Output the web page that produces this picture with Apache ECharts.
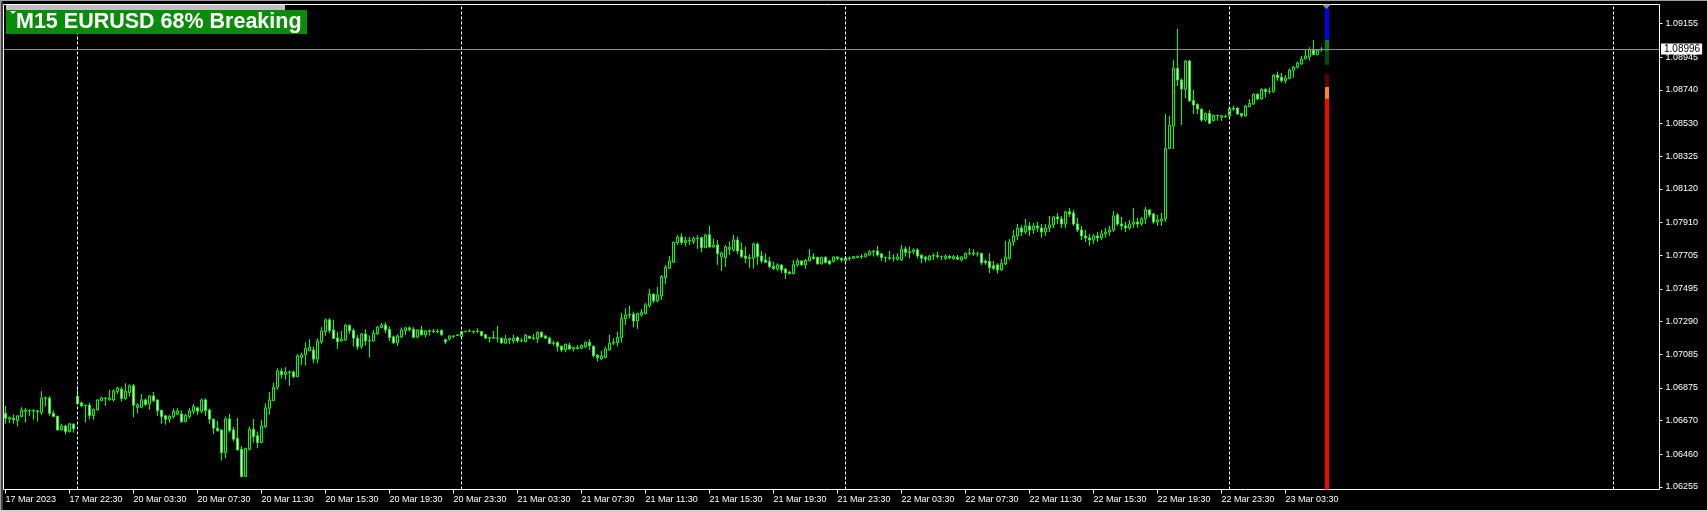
<!DOCTYPE html>
<html>
<head>
<meta charset="utf-8">
<script src="https://cdn.jsdelivr.net/npm/echarts@6/dist/echarts.min.js"></script>
<style>
html,body{margin:0;padding:0;background:#000;overflow:hidden;}
#chart{width:1707px;height:512px;}
</style>
</head>
<body>
<div id="chart"></div>
<script>
// ---------- text ----------
const chartTitle = 'M15 EURUSD 68% Breaking';
const xTickLabels = ['17 Mar 2023','17 Mar 22:30','20 Mar 03:30','20 Mar 07:30','20 Mar 11:30','20 Mar 15:30',
  '20 Mar 19:30','20 Mar 23:30','21 Mar 03:30','21 Mar 07:30','21 Mar 11:30','21 Mar 15:30','21 Mar 19:30',
  '21 Mar 23:30','22 Mar 03:30','22 Mar 07:30','22 Mar 11:30','22 Mar 15:30','22 Mar 19:30','22 Mar 23:30','23 Mar 03:30'];
const barsPerXLabel = 16;
const totalSlots = 414;            // bars + chart shift space
const yTickLabels = ['1.06255','1.06460','1.06670','1.06875','1.07085','1.07290','1.07495','1.07705',
  '1.07910','1.08120','1.08325','1.08530','1.08740','1.08945','1.09155'];
const yMin = 1.06239, yMax = 1.09275;
const bidPrice = 1.08996;
const daySeparatorBars = [18, 114, 210, 306, 402];

// ---------- M15 OHLC ----------
const openPrices = [
1.06716,1.06679,1.06685,1.06671,1.06696,1.06729,1.06731,1.06733,1.06731,1.06721,
1.06810,1.06810,1.06716,1.06698,1.06612,1.06637,1.06602,1.06648,1.06823,1.06781,
1.06767,1.06767,1.06702,1.06737,1.06796,1.06812,1.06800,1.06800,1.06852,1.06867,
1.06808,1.06846,1.06888,1.06752,1.06754,1.06800,1.06773,1.06825,1.06800,1.06735,
1.06700,1.06679,1.06696,1.06710,1.06712,1.06664,1.06696,1.06727,1.06750,1.06729,
1.06800,1.06737,1.06679,1.06623,1.06612,1.06470,1.06681,1.06612,1.06560,1.06491,
1.06320,1.06491,1.06616,1.06575,1.06533,1.06633,1.06748,1.06796,1.06879,1.06979,
1.06959,1.06975,1.06975,1.06946,1.07065,1.07082,1.07109,1.07113,1.07055,1.07165,
1.07228,1.07301,1.07238,1.07188,1.07169,1.07175,1.07265,1.07234,1.07186,1.07134,
1.07213,1.07169,1.07169,1.07213,1.07253,1.07269,1.07240,1.07194,1.07157,1.07196,
1.07234,1.07251,1.07242,1.07192,1.07238,1.07207,1.07232,1.07230,1.07228,1.07234,
1.07177,1.07180,1.07200,1.07203,1.07196,1.07228,1.07230,1.07230,1.07228,1.07228,
1.07207,1.07186,1.07190,1.07186,1.07186,1.07155,1.07182,1.07169,1.07190,1.07169,
1.07165,1.07198,1.07186,1.07182,1.07223,1.07200,1.07186,1.07153,1.07161,1.07136,
1.07113,1.07142,1.07119,1.07121,1.07123,1.07132,1.07161,1.07136,1.07079,1.07056,
1.07065,1.07113,1.07155,1.07159,1.07190,1.07307,1.07332,1.07336,1.07294,1.07332,
1.07340,1.07390,1.07461,1.07420,1.07451,1.07566,1.07624,1.07662,1.07785,1.07818,
1.07785,1.07799,1.07791,1.07810,1.07816,1.07753,1.07833,1.07757,1.07770,1.07695,
1.07691,1.07743,1.07739,1.07801,1.07739,1.07701,1.07686,1.07686,1.07776,1.07701,
1.07676,1.07666,1.07636,1.07620,1.07645,1.07620,1.07599,1.07590,1.07645,1.07670,
1.07645,1.07670,1.07695,1.07691,1.07651,1.07691,1.07670,1.07666,1.07695,1.07686,
1.07670,1.07689,1.07686,1.07691,1.07699,1.07697,1.07707,1.07728,1.07732,1.07714,
1.07691,1.07689,1.07686,1.07680,1.07676,1.07745,1.07722,1.07728,1.07739,1.07705,
1.07693,1.07676,1.07701,1.07703,1.07697,1.07686,1.07699,1.07682,1.07693,1.07676,
1.07686,1.07718,1.07720,1.07714,1.07716,1.07668,1.07666,1.07640,1.07645,1.07613,
1.07651,1.07686,1.07789,1.07826,1.07876,1.07851,1.07889,1.07864,1.07889,1.07876,
1.07851,1.07876,1.07895,1.07945,1.07933,1.07901,1.07977,1.07970,1.07901,1.07864,
1.07826,1.07814,1.07801,1.07826,1.07814,1.07839,1.07851,1.07864,1.07958,1.07901,
1.07889,1.07876,1.07901,1.07914,1.07901,1.07933,1.07989,1.07964,1.07914,1.07920,
1.07933,1.08374,1.08514,1.08875,1.08802,1.08744,1.08921,1.08675,1.08650,1.08619,
1.08552,1.08594,1.08548,1.08581,1.08569,1.08573,1.08577,1.08625,1.08627,1.08592,
1.08577,1.08635,1.08652,1.08713,1.08683,1.08744,1.08731,1.08729,1.08834,1.08819,
1.08798,1.08811,1.08863,1.08882,1.08903,1.08934,1.08948,1.08990,1.08961,1.08990
];
const highPrices = [
1.06762,1.06696,1.06710,1.06706,1.06754,1.06750,1.06741,1.06741,1.06737,1.06856,
1.06821,1.06825,1.06733,1.06700,1.06650,1.06643,1.06654,1.06654,1.06888,1.06789,
1.06768,1.06783,1.06746,1.06806,1.06821,1.06815,1.06863,1.06867,1.06883,1.06883,
1.06904,1.06898,1.06900,1.06779,1.06837,1.06810,1.06831,1.06850,1.06802,1.06737,
1.06706,1.06706,1.06746,1.06748,1.06733,1.06712,1.06748,1.06775,1.06758,1.06808,
1.06810,1.06746,1.06683,1.06668,1.06616,1.06696,1.06712,1.06629,1.06687,1.06512,
1.06499,1.06633,1.06681,1.06602,1.06675,1.06779,1.06850,1.06908,1.06998,1.06998,
1.07004,1.06984,1.06984,1.07088,1.07096,1.07159,1.07180,1.07134,1.07186,1.07255,
1.07309,1.07311,1.07301,1.07224,1.07232,1.07276,1.07273,1.07248,1.07207,1.07217,
1.07242,1.07203,1.07238,1.07263,1.07280,1.07286,1.07259,1.07203,1.07211,1.07253,
1.07257,1.07259,1.07255,1.07242,1.07263,1.07238,1.07242,1.07244,1.07244,1.07242,
1.07182,1.07207,1.07203,1.07211,1.07232,1.07232,1.07244,1.07232,1.07248,1.07232,
1.07213,1.07194,1.07232,1.07263,1.07190,1.07207,1.07190,1.07207,1.07198,1.07186,
1.07213,1.07203,1.07213,1.07228,1.07228,1.07207,1.07196,1.07171,1.07165,1.07140,
1.07153,1.07157,1.07132,1.07144,1.07148,1.07165,1.07180,1.07140,1.07086,1.07107,
1.07134,1.07207,1.07186,1.07228,1.07344,1.07374,1.07390,1.07353,1.07347,1.07369,
1.07405,1.07495,1.07468,1.07507,1.07582,1.07645,1.07701,1.07791,1.07833,1.07843,
1.07822,1.07820,1.07822,1.07831,1.07822,1.07837,1.07889,1.07808,1.07801,1.07728,
1.07770,1.07791,1.07833,1.07822,1.07785,1.07760,1.07712,1.07785,1.07785,1.07732,
1.07718,1.07695,1.07666,1.07655,1.07649,1.07624,1.07607,1.07676,1.07686,1.07676,
1.07682,1.07745,1.07718,1.07697,1.07697,1.07701,1.07676,1.07697,1.07695,1.07691,
1.07701,1.07697,1.07701,1.07703,1.07712,1.07722,1.07739,1.07739,1.07764,1.07718,
1.07697,1.07732,1.07712,1.07718,1.07770,1.07760,1.07760,1.07749,1.07749,1.07712,
1.07701,1.07707,1.07718,1.07728,1.07703,1.07712,1.07707,1.07707,1.07707,1.07701,
1.07722,1.07749,1.07743,1.07728,1.07722,1.07680,1.07718,1.07670,1.07655,1.07682,
1.07795,1.07808,1.07864,1.07901,1.07895,1.07933,1.07914,1.07908,1.07914,1.07901,
1.07901,1.07951,1.07951,1.07970,1.07951,1.07983,1.08002,1.07989,1.07939,1.07889,
1.07864,1.07839,1.07839,1.07851,1.07864,1.07876,1.07889,1.07983,1.07970,1.07945,
1.07914,1.07926,1.08002,1.07939,1.07945,1.08008,1.07995,1.07970,1.07958,1.07970,
1.08589,1.08577,1.08928,1.09122,1.08813,1.08928,1.08928,1.08740,1.08656,1.08625,
1.08598,1.08615,1.08585,1.08583,1.08583,1.08587,1.08631,1.08642,1.08631,1.08596,
1.08646,1.08683,1.08719,1.08719,1.08750,1.08750,1.08756,1.08838,1.08855,1.08848,
1.08834,1.08875,1.08890,1.08919,1.08953,1.08990,1.09007,1.09053,1.08994,1.09009
];
const lowPrices = [
1.06650,1.06654,1.06650,1.06633,1.06691,1.06658,1.06700,1.06675,1.06664,1.06706,
1.06758,1.06700,1.06691,1.06608,1.06608,1.06583,1.06595,1.06595,1.06777,1.06754,
1.06658,1.06679,1.06675,1.06733,1.06792,1.06762,1.06796,1.06789,1.06837,1.06789,
1.06800,1.06821,1.06691,1.06716,1.06748,1.06762,1.06737,1.06787,1.06700,1.06650,
1.06645,1.06658,1.06683,1.06704,1.06656,1.06660,1.06683,1.06712,1.06706,1.06716,
1.06700,1.06650,1.06587,1.06602,1.06420,1.06433,1.06595,1.06539,1.06483,1.06314,
1.06318,1.06483,1.06533,1.06497,1.06529,1.06623,1.06708,1.06792,1.06863,1.06933,
1.06925,1.06888,1.06936,1.06940,1.07019,1.07015,1.07103,1.07029,1.07029,1.07151,
1.07201,1.07217,1.07182,1.07119,1.07165,1.07169,1.07211,1.07134,1.07113,1.07119,
1.07140,1.07065,1.07165,1.07207,1.07248,1.07217,1.07169,1.07150,1.07138,1.07186,
1.07207,1.07228,1.07186,1.07186,1.07203,1.07190,1.07203,1.07217,1.07217,1.07203,
1.07148,1.07173,1.07186,1.07203,1.07192,1.07222,1.07224,1.07213,1.07217,1.07196,
1.07182,1.07159,1.07182,1.07161,1.07150,1.07150,1.07150,1.07153,1.07157,1.07161,
1.07159,1.07182,1.07175,1.07157,1.07190,1.07182,1.07148,1.07140,1.07102,1.07098,
1.07098,1.07113,1.07102,1.07115,1.07117,1.07123,1.07113,1.07065,1.07040,1.07048,
1.07061,1.07107,1.07144,1.07134,1.07159,1.07269,1.07311,1.07253,1.07244,1.07321,
1.07336,1.07378,1.07405,1.07411,1.07426,1.07526,1.07620,1.07657,1.07770,1.07770,
1.07760,1.07770,1.07776,1.07745,1.07724,1.07749,1.07753,1.07753,1.07645,1.07607,
1.07632,1.07707,1.07728,1.07712,1.07686,1.07655,1.07626,1.07622,1.07645,1.07655,
1.07655,1.07622,1.07613,1.07607,1.07593,1.07557,1.07586,1.07586,1.07634,1.07640,
1.07620,1.07666,1.07676,1.07649,1.07649,1.07655,1.07645,1.07661,1.07674,1.07661,
1.07666,1.07670,1.07682,1.07686,1.07682,1.07691,1.07703,1.07697,1.07697,1.07670,
1.07661,1.07676,1.07666,1.07672,1.07670,1.07697,1.07686,1.07712,1.07686,1.07655,
1.07661,1.07670,1.07676,1.07686,1.07674,1.07676,1.07680,1.07676,1.07676,1.07666,
1.07680,1.07707,1.07701,1.07697,1.07645,1.07645,1.07593,1.07611,1.07590,1.07607,
1.07645,1.07676,1.07764,1.07801,1.07826,1.07839,1.07826,1.07839,1.07851,1.07814,
1.07826,1.07851,1.07876,1.07901,1.07876,1.07876,1.07945,1.07889,1.07851,1.07801,
1.07789,1.07764,1.07776,1.07789,1.07801,1.07814,1.07826,1.07851,1.07889,1.07864,
1.07851,1.07864,1.07876,1.07876,1.07889,1.07901,1.07945,1.07901,1.07889,1.07889,
1.07914,1.08370,1.08370,1.08765,1.08521,1.08688,1.08667,1.08589,1.08589,1.08541,
1.08541,1.08527,1.08544,1.08548,1.08546,1.08567,1.08573,1.08608,1.08585,1.08567,
1.08573,1.08633,1.08646,1.08677,1.08677,1.08694,1.08715,1.08723,1.08796,1.08786,
1.08781,1.08807,1.08817,1.08875,1.08898,1.08932,1.08923,1.08957,1.08957,1.08980
];
const closePrices = [
1.06685,1.06689,1.06675,1.06700,1.06737,1.06737,1.06733,1.06731,1.06727,1.06810,
1.06812,1.06716,1.06696,1.06612,1.06637,1.06602,1.06650,1.06620,1.06777,1.06762,
1.06765,1.06702,1.06741,1.06800,1.06812,1.06810,1.06812,1.06856,1.06875,1.06808,
1.06852,1.06888,1.06767,1.06769,1.06800,1.06771,1.06825,1.06796,1.06733,1.06696,
1.06679,1.06696,1.06729,1.06731,1.06664,1.06702,1.06731,1.06758,1.06729,1.06800,
1.06733,1.06679,1.06623,1.06606,1.06470,1.06681,1.06608,1.06554,1.06487,1.06320,
1.06497,1.06616,1.06570,1.06533,1.06637,1.06750,1.06800,1.06879,1.06981,1.06959,
1.06975,1.06973,1.06946,1.07075,1.07082,1.07123,1.07130,1.07055,1.07167,1.07232,
1.07301,1.07234,1.07184,1.07165,1.07180,1.07269,1.07234,1.07186,1.07134,1.07213,
1.07169,1.07173,1.07217,1.07255,1.07269,1.07238,1.07190,1.07157,1.07200,1.07238,
1.07251,1.07240,1.07192,1.07238,1.07207,1.07232,1.07230,1.07228,1.07226,1.07207,
1.07163,1.07200,1.07198,1.07207,1.07228,1.07230,1.07230,1.07228,1.07230,1.07203,
1.07186,1.07190,1.07186,1.07186,1.07157,1.07182,1.07177,1.07186,1.07169,1.07171,
1.07203,1.07186,1.07184,1.07223,1.07194,1.07186,1.07153,1.07155,1.07134,1.07113,
1.07148,1.07119,1.07127,1.07129,1.07140,1.07161,1.07140,1.07077,1.07065,1.07075,
1.07119,1.07155,1.07161,1.07192,1.07311,1.07332,1.07336,1.07294,1.07340,1.07349,
1.07395,1.07461,1.07420,1.07457,1.07572,1.07630,1.07670,1.07787,1.07818,1.07785,
1.07799,1.07795,1.07810,1.07812,1.07753,1.07833,1.07757,1.07770,1.07716,1.07720,
1.07757,1.07757,1.07801,1.07732,1.07697,1.07686,1.07691,1.07776,1.07697,1.07670,
1.07661,1.07634,1.07622,1.07645,1.07613,1.07595,1.07590,1.07649,1.07670,1.07645,
1.07674,1.07695,1.07686,1.07651,1.07691,1.07659,1.07651,1.07695,1.07686,1.07676,
1.07689,1.07686,1.07697,1.07699,1.07697,1.07714,1.07728,1.07732,1.07707,1.07691,
1.07689,1.07686,1.07688,1.07695,1.07743,1.07722,1.07728,1.07739,1.07701,1.07686,
1.07680,1.07701,1.07703,1.07697,1.07697,1.07699,1.07689,1.07697,1.07680,1.07695,
1.07718,1.07720,1.07714,1.07714,1.07659,1.07659,1.07628,1.07622,1.07613,1.07655,
1.07693,1.07787,1.07826,1.07876,1.07851,1.07889,1.07864,1.07889,1.07876,1.07851,
1.07876,1.07895,1.07945,1.07933,1.07901,1.07977,1.07964,1.07901,1.07864,1.07826,
1.07814,1.07801,1.07826,1.07814,1.07839,1.07851,1.07864,1.07951,1.07901,1.07889,
1.07876,1.07901,1.07914,1.07901,1.07933,1.07989,1.07958,1.07914,1.07926,1.07933,
1.08374,1.08519,1.08875,1.08802,1.08746,1.08921,1.08671,1.08646,1.08621,1.08552,
1.08594,1.08531,1.08581,1.08579,1.08579,1.08571,1.08625,1.08621,1.08589,1.08579,
1.08640,1.08656,1.08713,1.08683,1.08744,1.08729,1.08733,1.08832,1.08817,1.08798,
1.08815,1.08865,1.08884,1.08909,1.08934,1.08953,1.08992,1.08961,1.08990,1.08996
];

// ---------- indicator column (price bands) ----------
const indicatorBar = 330;
const indicatorLevels = [1.06239, 1.08684, 1.08759, 1.08840, 1.08897, 1.08980, 1.09053, 1.09253];
const indicatorColors = ['#ff0000', '#ff8c00', '#5c0000', '#000000', '#004f00', '#008a00', '#0000ff'];

// ---------- build ----------
const categories = Array.from({length: totalSlots}, (_, i) => String(i));
const candleData = openPrices.map((o, i) => [o, closePrices[i], lowPrices[i], highPrices[i]]);
const yTickValues = yTickLabels.map(Number);
const isXLabel = (idx) => idx % barsPerXLabel === 0 && idx / barsPerXLabel < xTickLabels.length;
const indicatorData = indicatorColors.map((c, k) => [indicatorBar, indicatorLevels[k], indicatorLevels[k + 1], k]);

const labelFont = 'Liberation Sans';
const chart = echarts.init(document.getElementById('chart'), null, {renderer: 'canvas'});
const baseGraphic = [
  {type: 'rect', z: 100, shape: {x: 0, y: 0, width: 1, height: 512}, style: {fill: '#a0a0a0'}},
  {type: 'rect', z: 100, shape: {x: 1, y: 0, width: 2, height: 510}, style: {fill: '#404040'}},
  {type: 'rect', z: 100, shape: {x: 0, y: 0, width: 1707, height: 1}, style: {fill: '#a0a0a0'}},
  {type: 'rect', z: 100, shape: {x: 0, y: 510, width: 1707, height: 2}, style: {fill: '#d4d0c8'}},
  {type: 'rect', z: 100, shape: {x: 6, y: 5, width: 279, height: 5}, style: {fill: '#c0c0c0'}},
  {type: 'rect', z: 100, shape: {x: 6, y: 10, width: 301, height: 24}, style: {fill: '#0a8c0a'}},
  {type: 'polygon', z: 101, shape: {points: [[10, 11], [16, 11], [13, 14]]}, style: {fill: '#ffffff'}},
  {type: 'text', z: 101, x: 16, y: 22,
    style: {text: chartTitle, fill: '#ffffff', font: 'bold 21.5px "Liberation Sans", Arial, sans-serif',
            align: 'left', verticalAlign: 'middle'}}
];
chart.setOption({
  backgroundColor: '#000000',
  animation: false,
  grid: {left: 3.5, right: 47.5, top: 4.5, bottom: 22.5, show: true, backgroundColor: '#000000',
         borderColor: '#ffffff', borderWidth: 1, outerBoundsMode: 'none', containLabel: false},
  xAxis: {
    type: 'category', data: categories, boundaryGap: true,
    axisLine: {show: false},
    axisTick: {show: true, alignWithLabel: true, interval: isXLabel, length: 4, lineStyle: {color: '#ffffff', width: 1}},
    axisLabel: {show: true, interval: isXLabel, align: 'left', margin: 6, color: '#ffffff',
      fontFamily: labelFont, fontSize: 9,
      formatter: (v, idx) => xTickLabels[Math.round(idx / barsPerXLabel)] || ''},
    splitLine: {show: false}
  },
  yAxis: {
    type: 'value', position: 'right', min: yMin, max: yMax, scale: true,
    axisLine: {show: false}, splitLine: {show: false},
    axisTick: {show: true, customValues: yTickValues, length: 3, lineStyle: {color: '#ffffff', width: 1}},
    axisLabel: {show: true, customValues: yTickValues, margin: 6, color: '#ffffff', fontFamily: labelFont, fontSize: 9,
      formatter: (v) => {
        let best = 0;
        yTickValues.forEach((t, k) => { if (Math.abs(t - v) < Math.abs(yTickValues[best] - v)) best = k; });
        return yTickLabels[best];
      }}
  },
  series: [
    {
      type: 'candlestick', name: 'EURUSD', data: candleData, barWidth: 2, silent: true,
      itemStyle: {color: '#000000', color0: '#ffffff', borderColor: '#00ff00', borderColor0: '#00ff00',
                  borderColorDoji: '#00ff00', borderWidth: 1},
      markLine: {
        silent: true, symbol: ['none', 'none'], animation: false, precision: 5,
        data: [
          ...daySeparatorBars.map(b => ({xAxis: String(b), label: {show: false},
              lineStyle: {color: '#ffffff', type: [3, 2], width: 1}})),
          {yAxis: bidPrice, lineStyle: {color: '#8c8c8c', type: 'solid', width: 1},
            label: {show: true, position: 'end', distance: 1.5, formatter: bidPrice.toFixed(5),
              backgroundColor: '#ffffff', color: '#000000', fontFamily: labelFont, fontSize: 10,
              padding: [1, 2, 0, 3]}}
        ]
      }
    },
    {
      type: 'custom', name: 'indicator', data: indicatorData, silent: true, z: 3,
      encode: {x: 0, y: [1, 2]},
      renderItem: (params, api) => {
        const lo = api.coord([api.value(0), api.value(1)]);
        const hi = api.coord([api.value(0), api.value(2)]);
        return {type: 'rect', shape: {x: lo[0] - 0.5, y: hi[1], width: 4, height: lo[1] - hi[1]},
                style: {fill: indicatorColors[api.value(3)]}};
      }
    }
  ],
  graphic: baseGraphic
});
// chart-shift marker (grey triangle) above the indicator column, positioned through the axes
const shiftMarkPos = chart.convertToPixel({xAxisIndex: 0, yAxisIndex: 0}, [indicatorBar, yMax]);
chart.setOption({graphic: baseGraphic.concat([
  {type: 'polygon', z: 102, shape: {points: [[shiftMarkPos[0] - 3.5, shiftMarkPos[1]],
      [shiftMarkPos[0] + 5.5, shiftMarkPos[1]], [shiftMarkPos[0] + 1, shiftMarkPos[1] + 4.5]]},
   style: {fill: '#8c8c8c'}}
])});
</script>
</body>
</html>
